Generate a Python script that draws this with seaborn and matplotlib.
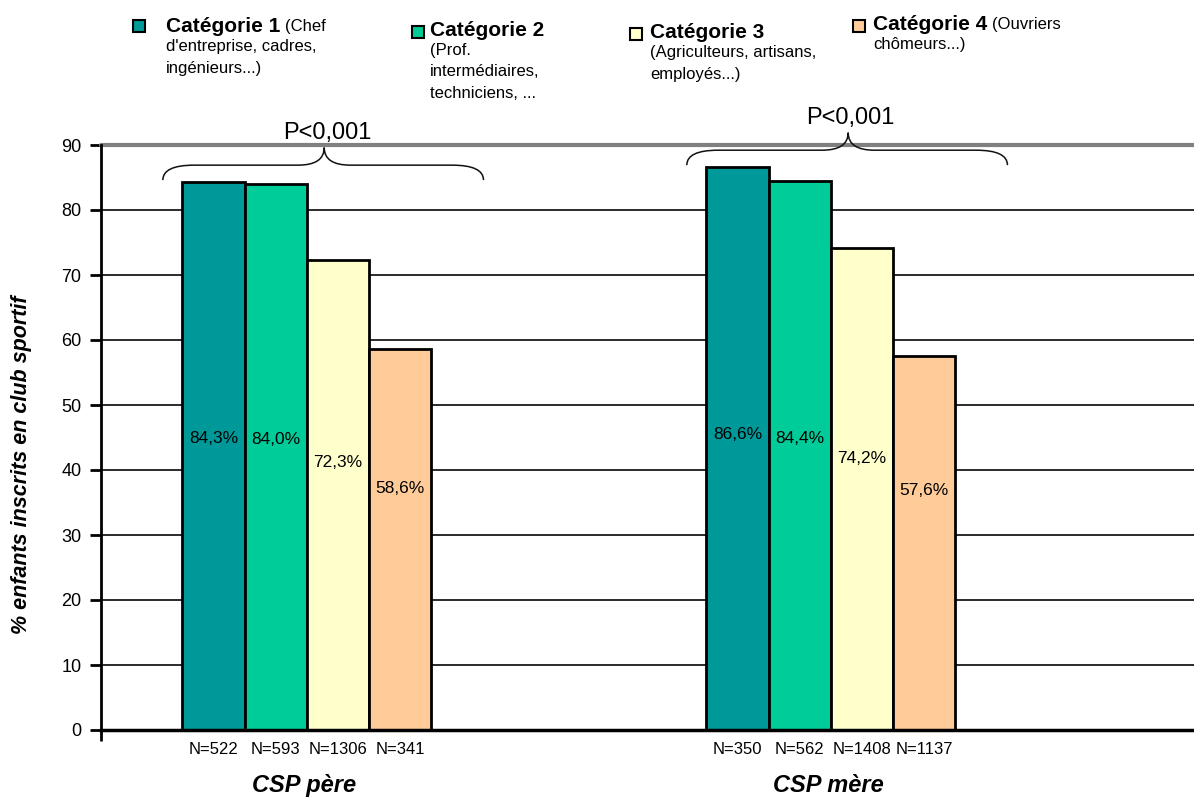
import matplotlib
matplotlib.use("Agg")
import matplotlib.pyplot as plt
from matplotlib.path import Path
from matplotlib.patches import PathPatch, Rectangle
import pandas as pd
import seaborn as sns

# ---- data -----------------------------------------------------------------
groups = ["CSP père", "CSP mère"]
categories = ["Catégorie 1", "Catégorie 2", "Catégorie 3", "Catégorie 4"]
values_pere = [84.3, 84.0, 72.3, 58.6]
values_mere = [86.6, 84.4, 74.2, 57.6]
labels_pere = ["84,3%", "84,0%", "72,3%", "58,6%"]
labels_mere = ["86,6%", "84,4%", "74,2%", "57,6%"]
n_pere = ["N=522", "N=593", "N=1306", "N=341"]
n_mere = ["N=350", "N=562", "N=1408", "N=1137"]
p_values = ["P<0,001", "P<0,001"]
category_details = [
    ["(Chef", "d'entreprise, cadres,", "ingénieurs...)"],
    ["(Prof.", "intermédiaires,", "techniciens, ..."],
    ["(Agriculteurs, artisans,", "employés...)"],
    ["(Ouvriers", "chômeurs...)"],
]
y_ticks = [0, 10, 20, 30, 40, 50, 60, 70, 80, 90]
y_label = "% enfants inscrits en club sportif"

colors = ["#009999", "#00CC99", "#FFFFCC", "#FFCC99"]

# ---- figure ---------------------------------------------------------------
sns.set_theme(style="white")
plt.rcParams["font.family"] = ["Liberation Sans", "DejaVu Sans"]
plt.rcParams["text.color"] = "black"
plt.rcParams["axes.labelcolor"] = "black"
plt.rcParams["xtick.color"] = "black"
plt.rcParams["ytick.color"] = "black"

W, H = 1194, 808
fig = plt.figure(figsize=(W / 100, H / 100), dpi=100)
ax = fig.add_axes([101 / W, 1 - 730 / H, 1 - 101 / W, (730 - 145) / H])

df = pd.DataFrame({
    "group": [groups[0]] * 4 + [groups[1]] * 4,
    "category": categories * 2,
    "value": values_pere + values_mere,
})

sns.barplot(data=df, x="group", y="value", hue="category", order=groups,
            hue_order=categories, palette=colors, saturation=1, width=0.475,
            edgecolor="black", linewidth=2, legend=False, ax=ax, zorder=3)

x_left, x_right = -0.393, 1.693
ax.set_xlim(x_left, x_right)
ax.set_ylim(0, 90)
ax.set_yticks(y_ticks)
ax.set_yticklabels([str(t) for t in y_ticks], fontsize=13)
ax.set_xticks([x_left])
ax.set_xticklabels([""])
ax.tick_params(axis="both", direction="out", length=8, width=2,
               bottom=True, left=True, pad=6)
ax.set_xlabel("")
ax.set_ylabel(y_label, fontsize=15.5, fontweight="bold", fontstyle="italic")
ax.yaxis.set_label_coords(-0.063, 0.453)

# horizontal gridlines; the top one is the grey frame of the plot area
for t in y_ticks[1:-1]:
    ax.axhline(t, color="#1a1a1a", lw=1.3, zorder=1)
ax.axhline(90, color="#808080", lw=3, zorder=1, clip_on=False)

for side in ["top", "right"]:
    ax.spines[side].set_visible(False)
ax.spines["left"].set_color("black")
ax.spines["left"].set_linewidth(2)
ax.spines["bottom"].set_color("black")
ax.spines["bottom"].set_linewidth(2.5)
ax.spines["bottom"].set_zorder(4)

# ---- labels inside and under the bars --------------------------------------
value_labels = [labels_pere, labels_mere]
value_sets = [values_pere, values_mere]
n_labels = [n_pere, n_mere]
for ci, container in enumerate(ax.containers):
    for gi, bar in enumerate(container):
        xc = bar.get_x() + bar.get_width() / 2
        v = value_sets[gi][ci]
        ax.text(xc, 0.3 * v + 19.5, value_labels[gi][ci], ha="center",
                va="center", fontsize=12.5, zorder=5)
        ax.text(xc, -0.033, n_labels[gi][ci], ha="center", va="center",
                fontsize=12, transform=ax.get_xaxis_transform(),
                clip_on=False)

for gi, g in enumerate(groups):
    ax.text(gi - 0.005, -0.095, g, ha="center", va="center", fontsize=17,
            fontweight="bold", fontstyle="italic",
            transform=ax.get_xaxis_transform(), clip_on=False)


# ---- curly braces with the significance level -----------------------------
def brace(ax, x0, x1, xc, y_line, y_end, y_tip, r=0.06, r2=0.05):
    verts = [
        (x0, y_end), (x0, y_line), (x0 + r, y_line),
        (xc - r2, y_line),
        (xc, y_line), (xc, y_tip),
        (xc, y_line), (xc + r2, y_line),
        (x1 - r, y_line),
        (x1, y_line), (x1, y_end),
    ]
    codes = [Path.MOVETO, Path.CURVE3, Path.CURVE3, Path.LINETO,
             Path.CURVE3, Path.CURVE3, Path.CURVE3, Path.CURVE3,
             Path.LINETO, Path.CURVE3, Path.CURVE3]
    ax.add_patch(PathPatch(Path(verts, codes), fill=False, lw=1.1,
                           edgecolor="#111111", clip_on=False, zorder=6))


for gi, vals in enumerate(value_sets):
    top = max(vals) + 2.6
    brace(ax, gi - 0.275, gi + 0.337, gi + 0.033, top, top - 2.3, top + 2.7)
    ax.text(gi + 0.038, top + 5.0, p_values[gi], ha="center", va="center",
            fontsize=17, clip_on=False)

# ---- legend drawn as a header row ----------------------------------------
legend_layout = [  # marker x, marker y, text x, first line y (pixels)
    (139, 26, 166, 26),
    (418, 32, 430, 30),
    (636, 34, 650, 32),
    (859, 26, 873, 24),
]
inline_first = [True, False, False, True]
line_step = 21

fig.canvas.draw()
renderer = fig.canvas.get_renderer()
for i, (mx, my, tx, ty) in enumerate(legend_layout):
    fig.patches.append(Rectangle(((mx - 6) / W, 1 - (my + 6) / H), 12 / W,
                                 12 / H, transform=fig.transFigure,
                                 facecolor=colors[i], edgecolor="black",
                                 lw=1.5, figure=fig))
    title = fig.text(tx / W, 1 - ty / H, categories[i], fontsize=15,
                     fontweight="bold", ha="left", va="center")
    details = list(category_details[i])
    if inline_first[i]:
        bb = title.get_window_extent(renderer)
        fig.text((bb.x1 + 5) / W, 1 - ty / H, details.pop(0), fontsize=12,
                 ha="left", va="center")
    for k, line in enumerate(details):
        fig.text(tx / W, 1 - (ty + line_step * (k + 1)) / H, line,
                 fontsize=12, ha="left", va="center")

fig.savefig("out.png", dpi=100)
